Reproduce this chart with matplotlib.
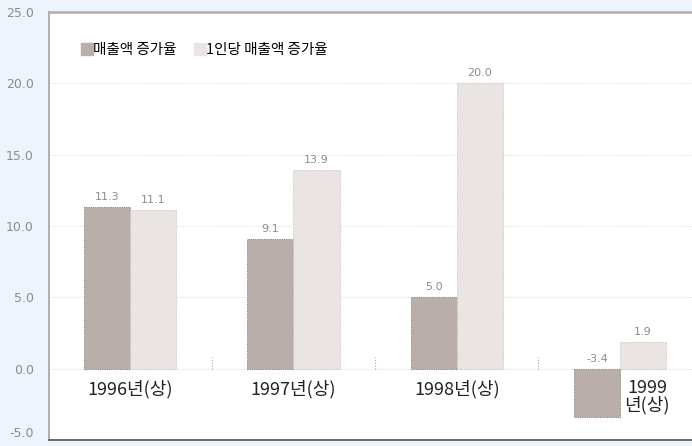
import matplotlib
matplotlib.use("Agg")
import matplotlib.pyplot as plt
import numpy as np
from matplotlib.lines import Line2D

plt.rcParams['font.family'] = ['Noto Sans CJK KR', 'DejaVu Sans']

categories = ["1996년(상)", "1997년(상)", "1998년(상)", "1999\n년(상)"]
sales_growth = [11.3, 9.1, 5.0, -3.4]
per_capita_growth = [11.1, 13.9, 20.0, 1.9]
series_names = ["매출액 증가율", "1인당 매출액 증가율"]
yticks = [-5.0, 0.0, 5.0, 10.0, 15.0, 20.0, 25.0]

dark = "#B9AEAA"
light = "#EAE5E2"
txt = "#8C8C8C"

fig = plt.figure(figsize=(6.92, 4.46), dpi=100, facecolor="#EEF4FC")
ax = fig.add_axes([0.0708, 0.0135, 0.9292, 0.9595])
ax.set_facecolor("white")

x = np.arange(len(categories))
w = 0.282
ax.bar(x - w / 2, sales_growth, w, color=dark, edgecolor="#8E8380",
       linewidth=0.8, linestyle=(0, (1, 1)), zorder=3)
ax.bar(x + w / 2, per_capita_growth, w, color=light, edgecolor="#D2C8C4",
       linewidth=0.8, linestyle=(0, (1, 1)), zorder=3)

for xi, v in zip(x - w / 2, sales_growth):
    ax.text(xi, max(v, 0) + 0.35, f"{v:.1f}", ha="center", va="bottom",
            fontsize=8, color=txt, family="DejaVu Sans")
for xi, v in zip(x + w / 2, per_capita_growth):
    ax.text(xi, max(v, 0) + 0.35, f"{v:.1f}", ha="center", va="bottom",
            fontsize=8, color=txt, family="DejaVu Sans")

# category labels
for i, lab in enumerate(categories):
    if i < 3:
        ax.text(x[i], -0.8, lab, ha="center", va="top", fontsize=13,
                color="#222222", fontweight="light")
    else:
        ax.text(x[i] + 0.165, -0.7, lab, ha="center", va="top", fontsize=13,
                color="#222222", linespacing=0.95, fontweight="light")

# separators
for s in [0.5, 1.5, 2.5]:
    ax.plot([s, s], [0, 0.8], color="#B0A8A5", lw=0.8, ls=(0, (1, 1.5)), zorder=2)

ax.set_xlim(-0.497, 3.44)
ax.set_ylim(-5, 25)
ax.set_yticks(yticks)
ax.set_yticklabels([f"{t:.1f}" for t in yticks], fontsize=9, color=txt, family="DejaVu Sans")
ax.tick_params(axis="y", length=0, pad=11)
ax.get_yticklabels()[0].set_verticalalignment("bottom")
ax.set_xticks([])
ax.grid(axis="y", color="#E6DCD8", lw=0.8, ls=(0, (1, 1.5)), zorder=0)

ax.spines["right"].set_visible(False)
ax.spines["left"].set_color("#A8A0A0")
ax.spines["left"].set_linestyle((0, (1, 1)))
ax.spines["left"].set_linewidth(1.2)
ax.spines["top"].set_color("#B8ABA8")
ax.spines["top"].set_linestyle((0, (1, 1)))
ax.spines["top"].set_linewidth(1.8)
ax.spines["bottom"].set_color("#6E6868")
ax.spines["bottom"].set_linestyle((0, (3, 1)))
ax.spines["bottom"].set_linewidth(1.4)

handles = [Line2D([], [], marker="s", ls="none", markersize=8.5, color=dark),
           Line2D([], [], marker="s", ls="none", markersize=8.5, color=light)]
ax.legend(handles, series_names, loc="upper left", bbox_to_anchor=(0.03, 0.958),
          ncol=2, frameon=False, handletextpad=0.0, columnspacing=1.2,
          handlelength=0.8, prop={"weight": "light", "size": 10.5})

fig.savefig("out.png", dpi=100, facecolor=fig.get_facecolor())
